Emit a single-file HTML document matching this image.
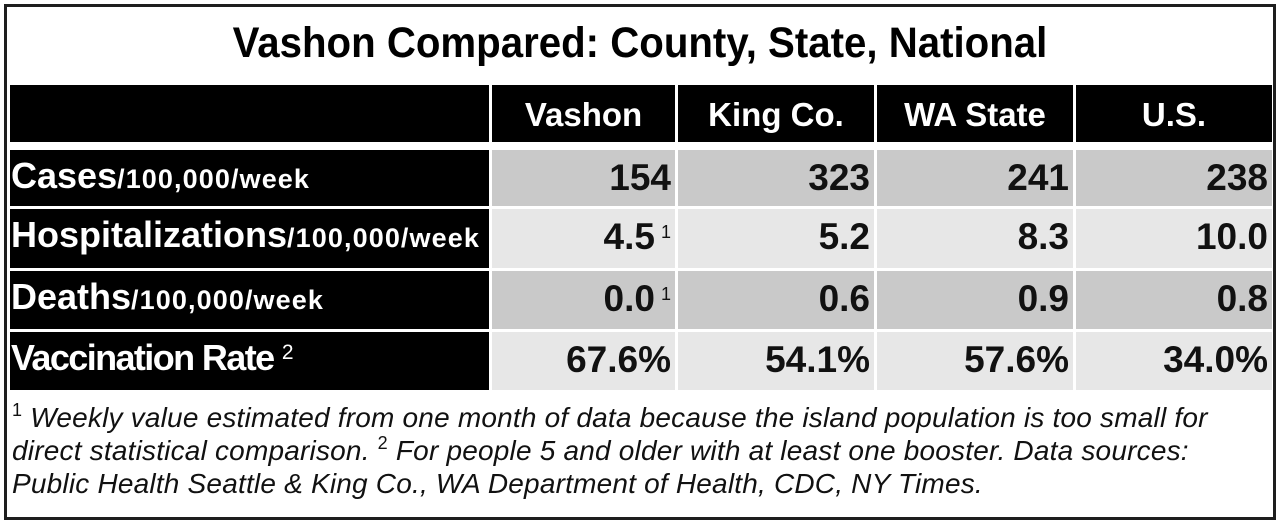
<!DOCTYPE html>
<html>
<head>
<meta charset="utf-8">
<style>
  html, body { margin:0; padding:0; }
  body { width:1280px; height:523px; background:#ffffff; position:relative; overflow:hidden;
         font-family:"Liberation Sans", Arial, sans-serif; }
  .frame { position:absolute; left:4px; top:4px; width:1272px; height:516px; box-sizing:border-box;
           border:3px solid #1e1e1e; }
  .title { position:absolute; left:0; top:22px; width:1280px; text-align:center;
           font-weight:bold; font-size:43px; line-height:43px; color:#000;
           transform:scaleX(0.935); transform-origin:640px 50%; white-space:nowrap; }
  .c { position:absolute; overflow:hidden; }
  .blk { background:#000; }
  .g1 { background:#c9c9c9; }
  .g2 { background:#e7e7e7; }
  .hd { position:absolute; left:0; right:0; top:13px; text-align:center; color:#fff;
        font-weight:bold; font-size:33px; line-height:33px; white-space:nowrap; }
  .lb { position:absolute; left:1px; top:8px; color:#fff; font-weight:bold;
        font-size:36px; line-height:36px; white-space:nowrap; }
  .lb .sm { font-size:27px; letter-spacing:1.1px; line-height:0; }
  .lb .sp { font-size:21px; font-weight:normal; position:relative; top:-11px; line-height:0; letter-spacing:0; }
  .v { position:absolute; right:4px; top:9px; color:#111; font-weight:bold;
       font-size:37px; line-height:37px; white-space:nowrap; }
  .v .s { font-size:18px; font-weight:normal; position:relative; top:-11px; margin-left:6px; line-height:0; }
  .foot { position:absolute; left:12px; top:401px; font-style:italic; font-size:28px; line-height:33px;
          letter-spacing:0.2px; color:#111; white-space:nowrap; }
  .foot .fs { font-size:18px; font-style:normal; position:relative; top:-11px; line-height:0; }
</style>
</head>
<body>
<div class="frame"></div>
<div class="title">Vashon Compared: County, State, National</div>

<!-- Header row -->
<div class="c blk" style="left:10px;top:85px;width:479px;height:57px;"></div>
<div class="c blk" style="left:492px;top:85px;width:183px;height:57px;"><div class="hd">Vashon</div></div>
<div class="c blk" style="left:678px;top:85px;width:196px;height:57px;"><div class="hd">King Co.</div></div>
<div class="c blk" style="left:877px;top:85px;width:196px;height:57px;"><div class="hd">WA State</div></div>
<div class="c blk" style="left:1076px;top:85px;width:196px;height:57px;"><div class="hd">U.S.</div></div>

<!-- Row 1 -->
<div class="c blk" style="left:10px;top:150px;width:479px;height:56px;"><div class="lb">Cases<span class="sm">/100,000/week</span></div></div>
<div class="c g1" style="left:492px;top:150px;width:183px;height:56px;"><div class="v">154</div></div>
<div class="c g1" style="left:678px;top:150px;width:196px;height:56px;"><div class="v">323</div></div>
<div class="c g1" style="left:877px;top:150px;width:196px;height:56px;"><div class="v">241</div></div>
<div class="c g1" style="left:1076px;top:150px;width:196px;height:56px;"><div class="v">238</div></div>

<!-- Row 2 -->
<div class="c blk" style="left:10px;top:209px;width:479px;height:59px;"><div class="lb">Hospitalizations<span class="sm">/100,000/week</span></div></div>
<div class="c g2" style="left:492px;top:209px;width:183px;height:59px;"><div class="v">4.5<span class="s">1</span></div></div>
<div class="c g2" style="left:678px;top:209px;width:196px;height:59px;"><div class="v">5.2</div></div>
<div class="c g2" style="left:877px;top:209px;width:196px;height:59px;"><div class="v">8.3</div></div>
<div class="c g2" style="left:1076px;top:209px;width:196px;height:59px;"><div class="v">10.0</div></div>

<!-- Row 3 -->
<div class="c blk" style="left:10px;top:271px;width:479px;height:58px;"><div class="lb">Deaths<span class="sm">/100,000/week</span></div></div>
<div class="c g1" style="left:492px;top:271px;width:183px;height:58px;"><div class="v">0.0<span class="s">1</span></div></div>
<div class="c g1" style="left:678px;top:271px;width:196px;height:58px;"><div class="v">0.6</div></div>
<div class="c g1" style="left:877px;top:271px;width:196px;height:58px;"><div class="v">0.9</div></div>
<div class="c g1" style="left:1076px;top:271px;width:196px;height:58px;"><div class="v">0.8</div></div>

<!-- Row 4 -->
<div class="c blk" style="left:10px;top:332px;width:479px;height:58px;"><div class="lb" style="letter-spacing:-1.6px;">Vaccination Rate <span class="sp">2</span></div></div>
<div class="c g2" style="left:492px;top:332px;width:183px;height:58px;"><div class="v">67.6%</div></div>
<div class="c g2" style="left:678px;top:332px;width:196px;height:58px;"><div class="v">54.1%</div></div>
<div class="c g2" style="left:877px;top:332px;width:196px;height:58px;"><div class="v">57.6%</div></div>
<div class="c g2" style="left:1076px;top:332px;width:196px;height:58px;"><div class="v">34.0%</div></div>

<!-- Footnote -->
<div class="foot"><span class="fs">1</span> Weekly value estimated from one month of data because the island population is too small for<br>direct statistical comparison. <span class="fs">2</span> For people 5 and older with at least one booster. Data sources:<br>Public Health Seattle &amp; King Co., WA Department of Health, CDC, NY Times.</div>
</body>
</html>
